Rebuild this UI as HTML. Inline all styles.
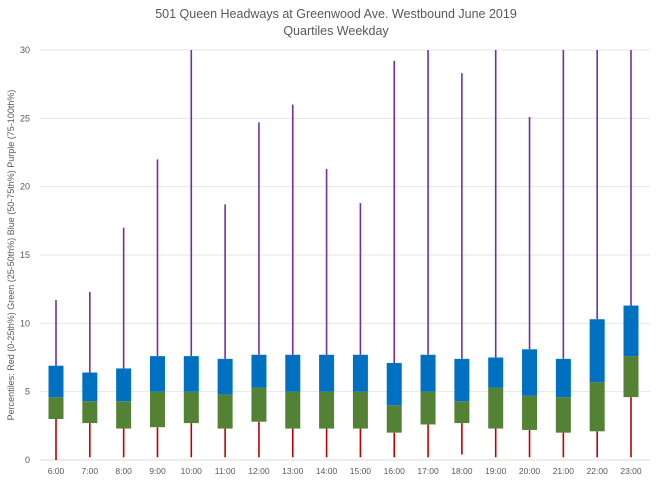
<!DOCTYPE html>
<html><head><meta charset="utf-8"><style>
body{margin:0;background:#fff;font-family:"Liberation Sans",sans-serif}
svg{display:block}
</style></head><body>
<svg id="c" width="660" height="480">
<text x="336" y="18" text-anchor="middle" font-size="12.5" fill="#595959">501 Queen Headways at Greenwood Ave. Westbound June 2019</text>
<text x="336" y="35" text-anchor="middle" font-size="12.5" fill="#595959">Quartiles Weekday</text>
<text transform="translate(14,255) rotate(-90)" text-anchor="middle" font-size="9" fill="#595959">Percentiles: Red (0-25th%)  Green (25-50th%)  Blue (50-75th%)  Purple (75-100th%)</text>
<g id="grid"></g><g id="marks"></g><g id="labels"></g>
</svg>
<script>
const categories=["6:00","7:00","8:00","9:00","10:00","11:00","12:00","13:00","14:00","15:00","16:00","17:00","18:00","19:00","20:00","21:00","22:00","23:00"];
const minVals=[0,0.2,0.2,0.2,0.2,0.2,0.2,0.2,0.2,0.2,0.2,0.2,0.4,0.2,0.2,0.2,0.2,0.2];
const q1Vals=[3.0,2.7,2.3,2.4,2.7,2.3,2.8,2.3,2.3,2.3,2.0,2.6,2.7,2.3,2.2,2.0,2.1,4.6];
const medVals=[4.6,4.3,4.3,5.0,5.0,4.8,5.3,5.0,5.0,5.0,4.0,5.0,4.3,5.3,4.7,4.6,5.7,7.6];
const q3Vals=[6.9,6.4,6.7,7.6,7.6,7.4,7.7,7.7,7.7,7.7,7.1,7.7,7.4,7.5,8.1,7.4,10.3,11.3];
const maxVals=[11.7,12.3,17.0,22.0,31,18.7,24.7,26.0,21.3,18.8,29.2,31,28.3,31,25.1,31,31,31];
const yTicks=[0,5,10,15,20,25,30];
{
const NS="http://www.w3.org/2000/svg";
const yMax=30,yTop=50,yBot=460,x0=56,step=(631-56)/17;
const y=v=>yBot-(Math.min(v,yMax)/yMax)*(yBot-yTop);
const x=i=>x0+i*step;
function mk(t,a,p){const e=document.createElementNS(NS,t);for(const k in a)e.setAttribute(k,a[k]);p.appendChild(e);return e;}
const g=document.getElementById('grid'),m=document.getElementById('marks'),l=document.getElementById('labels');
yTicks.forEach(t=>{
 const ln=mk('line',{x1:40,x2:650,y1:y(t),y2:y(t),stroke:t===0?'#d9d9d9':'#e6e6e6','stroke-width':1},g);
 
 
 const tx=mk('text',{x:30,y:y(t)+3,'text-anchor':'end','font-size':9,fill:'#595959'},l);
 tx.textContent=t;
 
 
});
categories.forEach((c,i)=>{
 const cx=x(i),w=15;
 const r=mk('line',{x1:cx,x2:cx,y1:y(minVals[i]),y2:y(q1Vals[i]),stroke:'#c00000','stroke-width':1.6},m);
 
 
 const p=mk('line',{x1:cx,x2:cx,y1:y(q3Vals[i]),y2:y(maxVals[i]),stroke:'#7030a0','stroke-width':1.6},m);
 
 
 const gb=mk('rect',{x:cx-w/2,y:y(medVals[i]),width:w,height:y(q1Vals[i])-y(medVals[i]),fill:'#548235'},m);
 
 
 const bb=mk('rect',{x:cx-w/2,y:y(q3Vals[i]),width:w,height:y(medVals[i])-y(q3Vals[i]),fill:'#0070c0'},m);
 
 
 const tx=mk('text',{x:cx,y:474,'text-anchor':'middle','font-size':8.5,fill:'#595959'},l);
 tx.textContent=c;
 
 
});
}
</script>
</body></html>
